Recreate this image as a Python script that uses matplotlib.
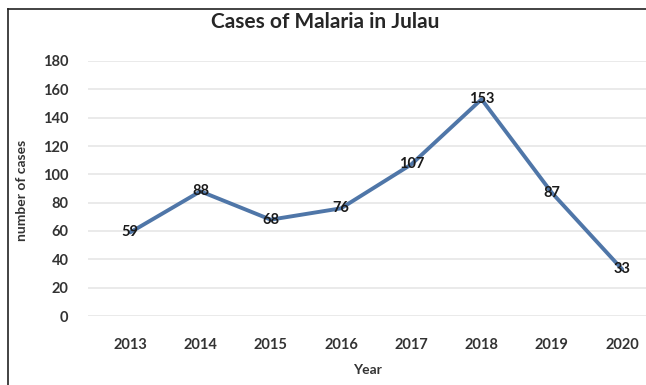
import matplotlib
matplotlib.use("Agg")
import matplotlib.pyplot as plt
from matplotlib.lines import Line2D

years = ["2013", "2014", "2015", "2016", "2017", "2018", "2019", "2020"]
cases = [59, 88, 68, 76, 107, 153, 87, 33]
yticks = [0, 20, 40, 60, 80, 100, 120, 140, 160, 180]

plt.rcParams['font.family'] = ['Lato', 'DejaVu Sans']

W, H = 646, 385
fig = plt.figure(figsize=(W / 100, H / 100), dpi=100)
fig.patch.set_facecolor('white')

# axes in pixel coordinates
left, right, bottom, top = 88, 646, H - 316, H - 61
ax = fig.add_axes([left / W, bottom / H, (right - left) / W, (top - bottom) / H])

x = list(range(len(years)))
ax.plot(x, cases, color='#4f76a8', lw=2.8, solid_capstyle='round', zorder=3)
for xi, v in zip(x, cases):
    ax.text(xi, v, str(v), ha='center', va='center', fontsize=10.5,
            fontweight='bold', color='#1a1a1a', zorder=4)

ax.set_xlim(-0.6, 7.34)
ax.set_ylim(0, 180)
ax.set_yticks(yticks)
ax.set_yticklabels([str(t) for t in yticks])
ax.set_xticks(x)
ax.set_xticklabels(years)
ax.grid(axis='y', color='#e6e6e6', lw=1.2)
ax.set_axisbelow(True)
for s in ax.spines.values():
    s.set_visible(False)
ax.tick_params(axis='both', length=0, labelsize=10.5, colors='#333333')
ax.tick_params(axis='x', pad=16)
ax.tick_params(axis='y', pad=14)
for lab in ax.get_xticklabels() + ax.get_yticklabels():
    lab.set_fontweight('bold')

fig.text((left + right) / 2 / W, 1 - 370 / H, 'Year', ha='center', va='center',
         fontsize=10, fontweight='bold', color='#333333')
fig.text(22 / W, 1 - 190 / H, 'number of cases', ha='center', va='center',
         rotation=90, fontsize=10, fontweight='bold', color='#333333')
fig.text(325 / W, 1 - 22 / H, 'Cases of Malaria in Julau', ha='center', va='center',
         fontsize=15, fontweight='bold', color='#262626')

# border lines (left and top)
fig.add_artist(Line2D([8 / W, 8 / W], [0, 1 - 9 / H], transform=fig.transFigure,
                      color='#222222', lw=1.2))
fig.add_artist(Line2D([8 / W, 1], [1 - 9 / H, 1 - 9 / H], transform=fig.transFigure,
                      color='#222222', lw=1.2))

fig.savefig('out.png', dpi=100, facecolor='white')
